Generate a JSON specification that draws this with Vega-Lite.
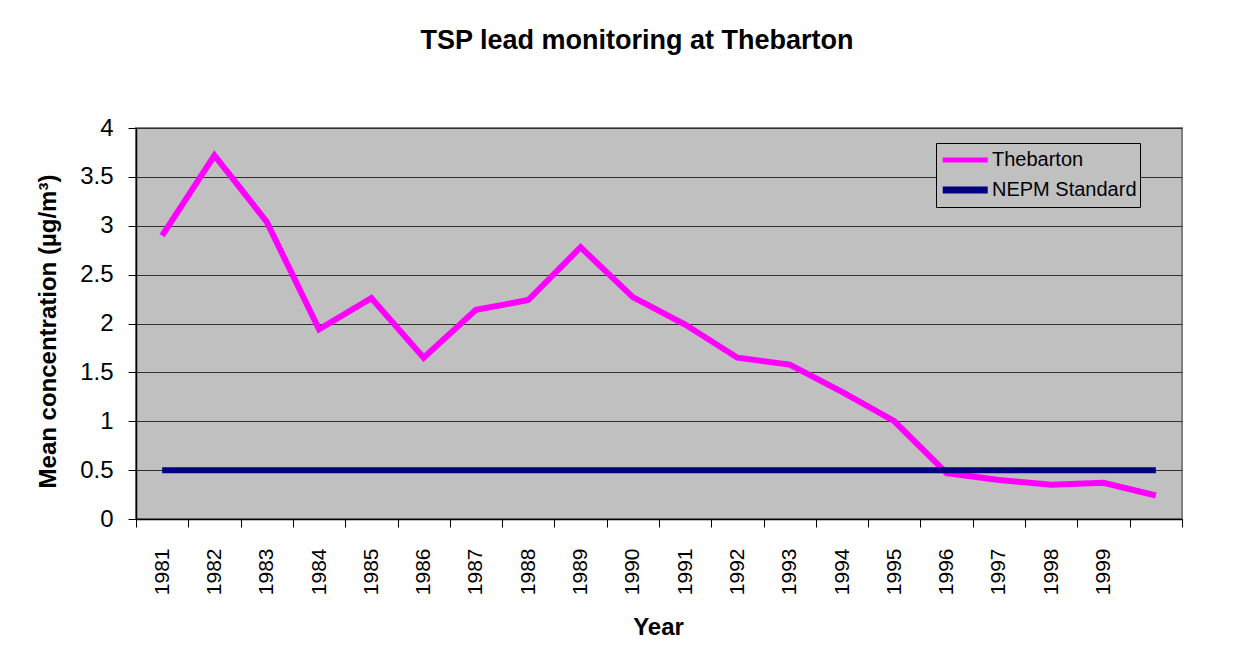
{
  "$schema": "https://vega.github.io/schema/vega-lite/v6.json",
  "width": 1046,
  "height": 391,
  "autosize": {"type": "none"},
  "padding": {"left": 136, "top": 128, "right": 52, "bottom": 149},
  "background": "white",
  "title": {
    "text": "TSP lead monitoring at Thebarton",
    "font": "Liberation Sans",
    "fontSize": 27,
    "fontWeight": "bold",
    "color": "#000000",
    "anchor": "middle",
    "dx": -22,
    "offset": 40,
    "baseline": "alphabetic"
  },
  "data": {
    "values": [
      {"year": "1981", "series": "Thebarton", "value": 2.90},
      {"year": "1982", "series": "Thebarton", "value": 3.72},
      {"year": "1983", "series": "Thebarton", "value": 3.04},
      {"year": "1984", "series": "Thebarton", "value": 1.94},
      {"year": "1985", "series": "Thebarton", "value": 2.26},
      {"year": "1986", "series": "Thebarton", "value": 1.65},
      {"year": "1987", "series": "Thebarton", "value": 2.14},
      {"year": "1988", "series": "Thebarton", "value": 2.24},
      {"year": "1989", "series": "Thebarton", "value": 2.78},
      {"year": "1990", "series": "Thebarton", "value": 2.27},
      {"year": "1991", "series": "Thebarton", "value": 1.99},
      {"year": "1992", "series": "Thebarton", "value": 1.65},
      {"year": "1993", "series": "Thebarton", "value": 1.58},
      {"year": "1994", "series": "Thebarton", "value": 1.30},
      {"year": "1995", "series": "Thebarton", "value": 1.00},
      {"year": "1996", "series": "Thebarton", "value": 0.47},
      {"year": "1997", "series": "Thebarton", "value": 0.40},
      {"year": "1998", "series": "Thebarton", "value": 0.35},
      {"year": "1999", "series": "Thebarton", "value": 0.37},
      {"year": "2000", "series": "Thebarton", "value": 0.24},
      {"year": "1981", "series": "NEPM Standard", "value": 0.5},
      {"year": "1982", "series": "NEPM Standard", "value": 0.5},
      {"year": "1983", "series": "NEPM Standard", "value": 0.5},
      {"year": "1984", "series": "NEPM Standard", "value": 0.5},
      {"year": "1985", "series": "NEPM Standard", "value": 0.5},
      {"year": "1986", "series": "NEPM Standard", "value": 0.5},
      {"year": "1987", "series": "NEPM Standard", "value": 0.5},
      {"year": "1988", "series": "NEPM Standard", "value": 0.5},
      {"year": "1989", "series": "NEPM Standard", "value": 0.5},
      {"year": "1990", "series": "NEPM Standard", "value": 0.5},
      {"year": "1991", "series": "NEPM Standard", "value": 0.5},
      {"year": "1992", "series": "NEPM Standard", "value": 0.5},
      {"year": "1993", "series": "NEPM Standard", "value": 0.5},
      {"year": "1994", "series": "NEPM Standard", "value": 0.5},
      {"year": "1995", "series": "NEPM Standard", "value": 0.5},
      {"year": "1996", "series": "NEPM Standard", "value": 0.5},
      {"year": "1997", "series": "NEPM Standard", "value": 0.5},
      {"year": "1998", "series": "NEPM Standard", "value": 0.5},
      {"year": "1999", "series": "NEPM Standard", "value": 0.5},
      {"year": "2000", "series": "NEPM Standard", "value": 0.5}
    ]
  },
  "mark": {"type": "line", "strokeWidth": 6, "strokeCap": "butt", "strokeJoin": "miter"},
  "encoding": {
    "x": {
      "field": "year",
      "type": "ordinal",
      "bandPosition": 0.5,
      "scale": {"type": "band", "paddingInner": 0, "paddingOuter": 0},
      "axis": {
        "title": "Year",
        "titleFont": "Liberation Sans",
        "titleFontSize": 24,
        "titleFontWeight": "bold",
        "titleColor": "#000000",
        "titleX": 522,
        "titleY": 108,
        "titleBaseline": "middle",
        "labelExpr": "datum.value == '2000' ? '' : datum.label",
        "labelAngle": -90,
        "labelAlign": "right",
        "labelBaseline": "middle",
        "labelFont": "Liberation Sans",
        "labelFontSize": 21,
        "labelColor": "#000000",
        "labelPadding": 21,
        "tickBand": "extent",
        "tickSize": 8,
        "tickColor": "#000000",
        "domainColor": "#000000",
        "domainWidth": 1.5,
        "grid": false
      }
    },
    "y": {
      "field": "value",
      "type": "quantitative",
      "scale": {"domain": [0, 4]},
      "axis": {
        "title": "Mean concentration (µg/m³)",
        "titleFont": "Liberation Sans",
        "titleFontSize": 24,
        "titleFontWeight": "bold",
        "titleColor": "#000000",
        "titleX": -88,
        "titleY": 203,
        "titleAngle": -90,
        "titleBaseline": "middle",
        "values": [0, 0.5, 1, 1.5, 2, 2.5, 3, 3.5, 4],
        "format": "~g",
        "labelFont": "Liberation Sans",
        "labelFontSize": 24,
        "labelColor": "#000000",
        "labelPadding": 15,
        "tickSize": 8,
        "tickColor": "#000000",
        "domainColor": "#000000",
        "domainWidth": 1.5,
        "grid": true,
        "gridColor": "#303030",
        "gridWidth": 1.2
      }
    },
    "color": {
      "field": "series",
      "type": "nominal",
      "scale": {"domain": ["Thebarton", "NEPM Standard"], "range": ["#FF00FF", "#000080"]},
      "legend": {
        "title": null,
        "orient": "none",
        "legendX": 800,
        "legendY": 15,
        "symbolType": "M-1,0H3",
        "symbolStrokeWidth": 6,
        "symbolSize": 506,
        "labelFont": "Liberation Sans",
        "labelFontSize": 20,
        "labelColor": "#000000",
        "labelOffset": 23,
        "fillColor": "#C0C0C0",
        "strokeColor": "#000000",
        "padding": 3,
        "rowPadding": 5
      }
    },
    "strokeWidth": {
      "field": "series",
      "type": "nominal",
      "scale": {"domain": ["Thebarton", "NEPM Standard"], "range": [5, 7]},
      "legend": null
    }
  },
  "config": {
    "view": {"fill": "#C0C0C0", "stroke": "#808080", "strokeWidth": 2}
  }
}
